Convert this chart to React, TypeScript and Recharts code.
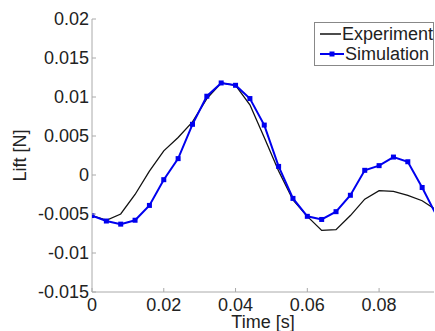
import React from 'react';
import { LineChart, Line, XAxis, YAxis } from 'recharts';

const times = [0, 0.004, 0.008, 0.012, 0.016, 0.02, 0.024, 0.028, 0.032, 0.036, 0.04, 0.044, 0.048, 0.052, 0.056, 0.06, 0.064, 0.068, 0.072, 0.076, 0.08, 0.084, 0.088, 0.092, 0.096];
const experiment = [-0.0052, -0.0058, -0.005, -0.0025, 0.0005, 0.0031, 0.0048, 0.0068, 0.0098, 0.0118, 0.0115, 0.009, 0.0048, 0.0005, -0.0032, -0.0053, -0.0071, -0.007, -0.0052, -0.0031, -0.002, -0.0021, -0.0026, -0.0033, -0.0045];
const simulation = [-0.0052, -0.0059, -0.0063, -0.0058, -0.0039, -0.0006, 0.0021, 0.0065, 0.0101, 0.0118, 0.0115, 0.0098, 0.0064, 0.0011, -0.003, -0.0053, -0.0057, -0.0047, -0.0026, 0.0006, 0.0012, 0.0023, 0.0017, -0.0016, -0.0052];
const xTicks = [0, 0.02, 0.04, 0.06, 0.08];
const yTicks = [-0.015, -0.01, -0.005, 0, 0.005, 0.01, 0.015, 0.02];
const xLabels = ['0', '0.02', '0.04', '0.06', '0.08'];
const yLabels = ['-0.015', '-0.01', '-0.005', '0', '0.005', '0.01', '0.015', '0.02'];

const data = times.map((t, i) => ({ t, exp: experiment[i], sim: simulation[i] }));

const FONT = 'Liberation Sans, Arial, sans-serif';
const TXT = '#222';
const AX = '#aaa';
const FS = 18;

const XTick = (props: any) => {
  const { x, y, payload } = props;
  const idx = xTicks.indexOf(payload.value);
  return (
    <g>
      <line x1={x} y1={y} x2={x} y2={y - 4} stroke={AX} strokeWidth={1} />
      <text x={x} y={y + 19} textAnchor="middle" fontSize={FS} fontFamily={FONT} fill={TXT}>
        {idx >= 0 ? xLabels[idx] : payload.value}
      </text>
    </g>
  );
};

const YTick = (props: any) => {
  const { x, y, payload } = props;
  const idx = yTicks.indexOf(payload.value);
  return (
    <g>
      <line x1={x} y1={y} x2={x + 4} y2={y} stroke={AX} strokeWidth={1} />
      <text x={x - 3} y={y + 6} textAnchor="end" fontSize={FS} fontFamily={FONT} fill={TXT}>
        {idx >= 0 ? yLabels[idx] : payload.value}
      </text>
    </g>
  );
};

const SquareDot = (props: any) => {
  const { cx, cy } = props;
  if (cx == null || cy == null) return null;
  return <rect x={cx - 2.5} y={cy - 2.5} width={5} height={5} fill="#0000ee" />;
};

const LegendBox = () => (
  <div
    style={{
      position: 'absolute',
      left: 314,
      top: 22,
      border: '1px solid #888',
      background: '#fff',
      width: 120,
      height: 44,
      boxSizing: 'border-box',
      fontFamily: FONT,
      fontSize: FS,
      color: TXT,
      padding: '1px 0 0 5px',
      lineHeight: '20px',
      whiteSpace: 'nowrap',
    }}
  >
    <div style={{ display: 'flex', alignItems: 'center' }}>
      <svg width={24} height={10} style={{ marginRight: 1 }}>
        <line x1={0} y1={5} x2={24} y2={5} stroke="#111" strokeWidth={1.5} />
      </svg>
      <span>Experiment</span>
    </div>
    <div style={{ display: 'flex', alignItems: 'center' }}>
      <svg width={24} height={10} style={{ marginRight: 1 }}>
        <line x1={0} y1={5} x2={24} y2={5} stroke="#0000ee" strokeWidth={2} />
        <rect x={9.5} y={2.5} width={5} height={5} fill="#0000ee" />
      </svg>
      <span>Simulation</span>
    </div>
  </div>
);

export default function App() {
  return (
    <div style={{ position: 'absolute', left: 0, top: 0, width: 435, height: 331, background: '#fff', overflow: 'hidden' }}>
      <LineChart width={435} height={331} data={data} margin={{ top: 19, right: 1, bottom: 0, left: 0 }}>
        <XAxis
          dataKey="t"
          type="number"
          domain={[0, 0.0953]}
          allowDataOverflow
          ticks={xTicks}
          height={39}
          stroke={AX}
          tickLine={false}
          tickSize={0}
          tickMargin={0}
          tick={<XTick />}
          label={{ value: 'Time [s]', position: 'insideBottom', offset: 3, fontSize: FS, fontFamily: FONT, fill: TXT }}
        />
        <YAxis
          type="number"
          domain={[-0.015, 0.02]}
          ticks={yTicks}
          width={92}
          stroke={AX}
          tickLine={false}
          tickSize={0}
          tickMargin={0}
          tick={<YTick />}
          label={{ value: 'Lift [N]', angle: -90, position: 'insideLeft', offset: 20, fontSize: FS, fontFamily: FONT, fill: TXT, style: { textAnchor: 'middle' } }}
        />
        <Line type="linear" dataKey="exp" stroke="#111" strokeWidth={1.3} dot={false} isAnimationActive={false} />
        <Line type="linear" dataKey="sim" stroke="#0000ee" strokeWidth={2} dot={<SquareDot />} isAnimationActive={false} />
      </LineChart>
      <LegendBox />
    </div>
  );
}
